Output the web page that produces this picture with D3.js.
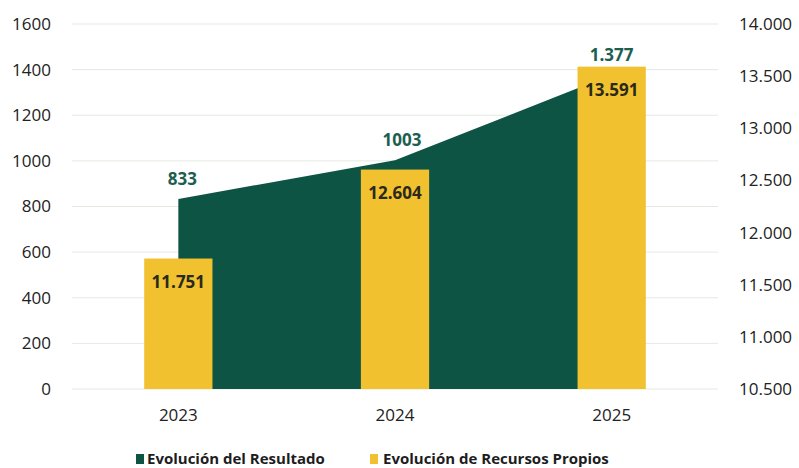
<!DOCTYPE html>
<html>
<head>
<meta charset="utf-8">
<script src="https://cdn.jsdelivr.net/npm/d3@7"></script>
<style>
  html, body { margin: 0; padding: 0; background: #fff; }
  svg { display: block; font-family: "Open Sans", sans-serif; }
</style>
</head>
<body>
<div id="chart"></div>
<script>
// data
const years = ["2023", "2024", "2025"];
const resultado = [833, 1003, 1377];            // left axis, area
const recursosPropios = [11751, 12604, 13591];  // right axis, bars
const resultadoLabels = ["833", "1003", "1.377"];
const recursosLabels = ["11.751", "12.604", "13.591"];
const leftTicks = [0, 200, 400, 600, 800, 1000, 1200, 1400, 1600];
const rightTicks = [10500, 11000, 11500, 12000, 12500, 13000, 13500, 14000];
const legendNames = ["Evolución del Resultado", "Evolución de Recursos Propios"];

const width = 799, height = 468;
const margin = {top: 24, right: 79, bottom: 79, left: 70};
const green = "#0e5444", yellow = "#f2c12f";

const fmtThousands = d => d3.format(",")(d).replace(/,/g, ".");

const x = d3.scaleBand()
    .domain(years)
    .range([margin.left, width - margin.right])
    .padding(0);

const yL = d3.scaleLinear()
    .domain([0, 1600])
    .range([height - margin.bottom, margin.top]);

const yR = d3.scaleLinear()
    .domain([10500, 14000])
    .range([height - margin.bottom, margin.top]);

const cx = d => x(d) + x.bandwidth() / 2;
const barW = x.bandwidth() * 0.315;

const svg = d3.create("svg")
    .attr("width", width)
    .attr("height", height)
    .attr("viewBox", [0, 0, width, height]);

// gridlines
svg.append("g")
    .attr("class", "grid")
  .selectAll("line")
  .data(leftTicks)
  .join("line")
    .attr("x1", margin.left + 2)
    .attr("x2", width - margin.right - 2)
    .attr("y1", d => yL(d))
    .attr("y2", d => yL(d))
    .attr("stroke", "#e3ebe0")
    .attr("stroke-width", 1);

// area for resultado
const areaData = years.map((y, i) => ({year: y, v: resultado[i]}));
const area = d3.area()
    .x(d => cx(d.year))
    .y0(yL(0))
    .y1(d => yL(d.v));

svg.append("path")
    .datum(areaData)
    .attr("fill", green)
    .attr("d", area);

// bars for recursos propios
const barData = years.map((y, i) => ({year: y, v: recursosPropios[i], label: recursosLabels[i]}));
svg.append("g")
    .attr("class", "bars")
    .attr("fill", yellow)
  .selectAll("rect")
  .data(barData)
  .join("rect")
    .attr("x", d => cx(d.year) - barW / 2)
    .attr("y", d => yR(d.v))
    .attr("width", barW)
    .attr("height", d => yR(10500) - yR(d.v));

// bar labels
svg.append("g")
  .selectAll("text")
  .data(barData)
  .join("text")
    .attr("x", d => cx(d.year))
    .attr("y", d => yR(d.v) + 29)
    .attr("text-anchor", "middle")
    .attr("font-size", 17)
    .attr("font-weight", "bold")
    .attr("fill", "#2a2a1c")
    .text(d => d.label);

// area labels
svg.append("g")
  .selectAll("text")
  .data(areaData)
  .join("text")
    .attr("x", (d, i) => cx(d.year) + [4, 7, 0][i])
    .attr("y", d => yL(d.v) - 14)
    .attr("text-anchor", "middle")
    .attr("font-size", 17)
    .attr("font-weight", "bold")
    .attr("fill", "#1c5e4f")
    .text((d, i) => resultadoLabels[i]);

// left axis
svg.append("g")
    .attr("transform", `translate(${margin.left},0)`)
    .call(d3.axisLeft(yL).tickValues(leftTicks).tickFormat(d3.format("d")).tickSize(0).tickPadding(19))
    .call(g => g.select(".domain").remove())
    .call(g => g.selectAll("text")
        .attr("font-family", "Open Sans, sans-serif")
        .attr("font-size", 17)
        .attr("fill", "#222"));

// right axis
svg.append("g")
    .attr("transform", `translate(${width - margin.right},0)`)
    .call(d3.axisRight(yR).tickValues(rightTicks).tickFormat(fmtThousands).tickSize(0).tickPadding(19))
    .call(g => g.select(".domain").remove())
    .call(g => g.selectAll("text")
        .attr("font-family", "Open Sans, sans-serif")
        .attr("font-size", 17)
        .attr("fill", "#222"));

// x axis
svg.append("g")
    .attr("transform", `translate(0,${height - margin.bottom})`)
    .call(d3.axisBottom(x).tickSize(0).tickPadding(20))
    .call(g => g.select(".domain").remove())
    .call(g => g.selectAll("text")
        .attr("font-family", "Open Sans, sans-serif")
        .attr("font-size", 17)
        .attr("fill", "#222"));

// legend
const legend = svg.append("g")
    .attr("transform", `translate(0,${height - 4})`);
const legendX = [136, 370];
const legendColors = [green, yellow];
legendNames.forEach((name, i) => {
  legend.append("rect")
      .attr("x", legendX[i])
      .attr("y", -10)
      .attr("width", 8)
      .attr("height", 10)
      .attr("fill", legendColors[i]);
  legend.append("text")
      .attr("x", legendX[i] + (i === 0 ? 11 : 13))
      .attr("y", 0)
      .attr("font-size", 15)
      .attr("font-weight", "bold")
      .attr("fill", "#1d1d1d")
      .text(name);
});

d3.select("#chart").append(() => svg.node());
</script>
</body>
</html>
